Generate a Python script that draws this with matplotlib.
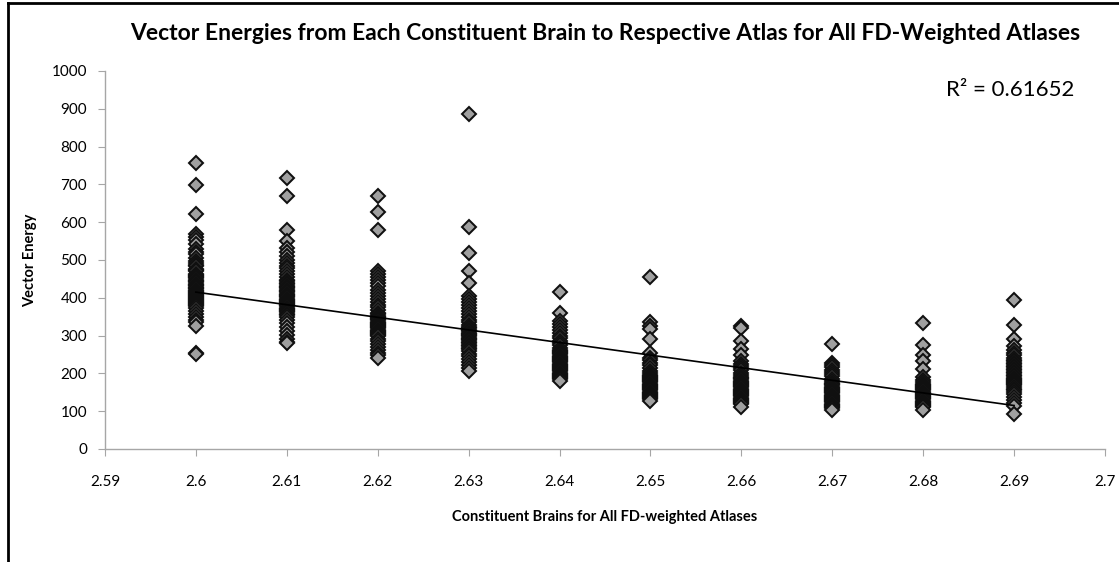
#!/usr/bin/env python3

import matplotlib
matplotlib.use("Agg")
import matplotlib.pyplot as plt
from matplotlib.lines import Line2D

# vector energy per constituent brain, one list per atlas
x_vals = [2.60, 2.61, 2.62, 2.63, 2.64, 2.65, 2.66, 2.67, 2.68, 2.69]

c260 = [757, 698, 622, 570, 562, 552, 541, 530, 522, 515, 506, 498, 491, 484, 477,
        470, 464, 458, 452, 447, 441, 436, 430, 425, 420, 415, 410, 405, 400, 395,
        390, 384, 378, 372, 365, 358, 350, 342, 335, 325, 255, 250,
        487, 473, 461, 455, 444, 433, 427, 417, 412, 407, 402, 397, 392, 387, 381]
c261 = [718, 670, 580, 550, 531, 520, 510, 500, 492, 485, 478, 470, 462, 455, 448,
        440, 432, 425, 418, 411, 404, 398, 392, 386, 380, 374, 368, 362, 355, 348,
        340, 332, 322, 312, 301, 291, 284, 280,
        445, 436, 428, 421, 414, 407, 401, 395, 389, 383, 377, 371, 365, 358]
c262 = [668, 628, 580, 470, 462, 455, 448, 440, 430, 421, 412, 405, 398, 390, 382,
        375, 368, 360, 353, 346, 340, 334, 328, 322, 316, 310, 304, 298, 292, 285,
        278, 270, 262, 255, 248, 242,
        357, 349, 343, 337, 331, 325, 319, 313, 307, 301]
c263 = [885, 588, 518, 470, 440, 405, 398, 390, 382, 374, 366, 358, 350, 342, 335,
        328, 320, 312, 305, 298, 290, 283, 276, 268, 260, 252, 245, 238, 230, 222,
        214, 207,
        324, 316, 308, 301, 294, 287, 280, 272, 264]
c264 = [415, 360, 338, 330, 322, 315, 308, 300, 293, 286, 280, 274, 268, 262, 256,
        250, 244, 238, 232, 226, 220, 214, 208, 202, 196, 190, 185, 180,
        259, 253, 247, 241, 235, 229, 223, 217, 211, 205, 199, 193, 188]
c265 = [455, 335, 325, 318, 290, 255, 242, 235, 228, 221, 214, 207, 200, 194, 188,
        182, 176, 170, 164, 158, 152, 146, 140, 134, 128,
        197, 191, 185, 179, 173, 167, 161, 155, 149, 143, 137, 131]
c266 = [325, 320, 285, 265, 248, 232, 226, 220, 214, 208, 202, 196, 190, 184, 178,
        172, 166, 160, 154, 148, 142, 136, 130, 124, 118, 112,
        187, 181, 175, 169, 163, 157, 151, 145, 139, 133, 127, 121]
c267 = [278, 228, 222, 216, 210, 204, 198, 192, 186, 180, 174, 168, 162, 156, 150,
        144, 138, 132, 126, 120, 114, 108, 102,
        171, 165, 159, 153, 147, 141, 135, 129, 123, 117, 111]
c268 = [333, 275, 248, 232, 212, 190, 182, 176, 170, 164, 158, 152, 146, 140, 134,
        128, 122, 116, 110, 104,
        173, 167, 161, 155, 149, 143, 137, 131, 125, 119, 113]
c269 = [393, 328, 292, 272, 262, 255, 248, 240, 232, 224, 216, 208, 200, 193, 186,
        180, 174, 168, 160, 152, 145, 138, 130, 122, 115, 93,
        236, 228, 220, 212, 204, 196, 189, 183, 177, 171, 164, 156]

columns = [c260, c261, c262, c263, c264, c265, c266, c267, c268, c269]

# linear trend line as drawn on the chart
trend_x = [2.60, 2.69]
trend_y = [415, 115]
r2_text = "R² = 0.61652"

x_ticks = [2.59, 2.60, 2.61, 2.62, 2.63, 2.64, 2.65, 2.66, 2.67, 2.68, 2.69, 2.70]
x_tick_labels = ["2.59", "2.6", "2.61", "2.62", "2.63", "2.64", "2.65", "2.66",
                 "2.67", "2.68", "2.69", "2.7"]
y_ticks = [0, 100, 200, 300, 400, 500, 600, 700, 800, 900, 1000]


def main():
  plt.rcParams['font.family'] = ['Lato', 'DejaVu Sans']

  fig = plt.figure(figsize=(11.19, 5.62), dpi=100)
  ax = fig.add_axes([0.0938, 0.2011, 0.8937, 0.6726])

  for x, ys in zip(x_vals, columns):
    # draw top to bottom so the lowest diamond sits on top
    ys = sorted(ys, reverse=True)
    ax.plot([x] * len(ys), ys, linestyle='none', marker='D', markersize=7.2,
            markerfacecolor='#a0a0a0', markeredgecolor='#101010',
            markeredgewidth=1.45, zorder=3)

  ax.plot(trend_x, trend_y, color='black', linewidth=1.2, zorder=4)

  ax.set_xlim(2.59, 2.70)
  ax.set_ylim(0, 1000)
  ax.set_xticks(x_ticks)
  ax.set_xticklabels(x_tick_labels)
  ax.set_yticks(y_ticks)

  for side in ['top', 'right']:
    ax.spines[side].set_visible(False)
  for side in ['left', 'bottom']:
    ax.spines[side].set_color('#a6a6a6')
    ax.spines[side].set_linewidth(1.0)
  ax.tick_params(axis='y', direction='out', length=5, color='#a6a6a6',
                 labelsize=11, pad=8)
  ax.tick_params(axis='x', direction='out', length=5, color='#a6a6a6',
                 labelsize=11, pad=14)

  ax.set_title("Vector Energies from Each Constituent Brain to Respective Atlas for All FD-Weighted Atlases",
               fontsize=16.5, fontweight='bold', pad=22)
  ax.set_ylabel("Vector Energy", fontsize=10.5, fontweight='bold', labelpad=10)
  ax.set_xlabel("Constituent Brains for All FD-weighted Atlases", fontsize=10.5,
                fontweight='bold', labelpad=15)

  ax.text(2.6825, 950, r2_text, fontsize=16, ha='left', va='center')

  # outer frame of the original screenshot (top and left edges only)
  fig.add_artist(Line2D([0.007, 1.0], [0.994, 0.994], transform=fig.transFigure,
                        color='black', linewidth=2))
  fig.add_artist(Line2D([0.007, 0.007], [0.0, 0.994], transform=fig.transFigure,
                        color='black', linewidth=2))

  fig.savefig("out.png", dpi=100, facecolor='white')


if __name__ == "__main__":
  main()
